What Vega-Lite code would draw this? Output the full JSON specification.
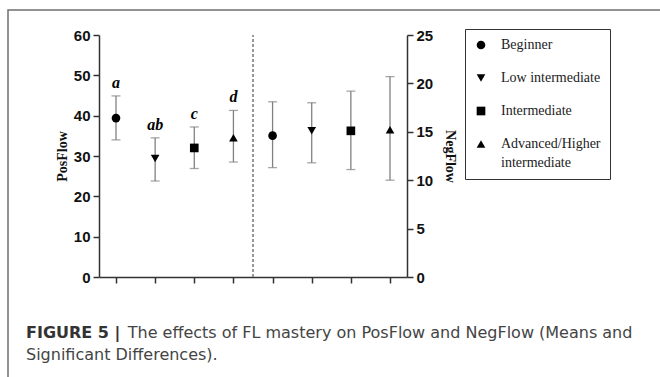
{
  "$schema": "https://vega.github.io/schema/vega-lite/v6.json",
  "width": 653,
  "height": 368,
  "autosize": "none",
  "padding": {"left": 8, "top": 10, "right": -1, "bottom": -1},
  "background": "white",
  "config": {
    "view": {"stroke": "#6f6f6f", "strokeWidth": 1.5},
    "style": {"guide-label": {"lineHeight": 19}}
  },
  "title": {
    "text": "FIGURE 5 |",
    "subtitle": ["\u200b\u00a0\u00a0\u00a0\u00a0\u00a0\u00a0\u00a0\u00a0\u00a0\u00a0\u00a0\u00a0\u00a0\u00a0\u00a0\u00a0\u00a0\u00a0\u00a0\u00a0The effects of FL mastery on PosFlow and NegFlow (Means and", "Significant Differences)."],
    "orient": "bottom",
    "anchor": "start",
    "frame": "group",
    "offset": -53,
    "dx": 18,
    "font": "DejaVu Sans",
    "fontSize": 16,
    "fontWeight": "bold",
    "color": "#333",
    "subtitleFont": "DejaVu Sans",
    "subtitleFontSize": 16,
    "subtitleColor": "#444",
    "subtitleLineHeight": 21.5,
    "subtitlePadding": -16
  },
  "datasets": {
    "posflow": [
      {"pos": 1, "level": "Beginner", "mean": 39.4, "lo": 34.0, "hi": 44.9, "sig": "a"},
      {"pos": 2, "level": "Low intermediate", "mean": 29.4, "lo": 23.8, "hi": 34.5, "sig": "ab"},
      {"pos": 3, "level": "Intermediate", "mean": 32.0, "lo": 26.9, "hi": 37.2, "sig": "c"},
      {"pos": 4, "level": "Advanced/Higher intermediate", "mean": 34.5, "lo": 28.5, "hi": 41.3, "sig": "d"}
    ],
    "negflow": [
      {"pos": 5, "level": "Beginner", "mean": 14.6, "lo": 11.3, "hi": 18.1},
      {"pos": 6, "level": "Low intermediate", "mean": 15.1, "lo": 11.8, "hi": 18.0},
      {"pos": 7, "level": "Intermediate", "mean": 15.1, "lo": 11.1, "hi": 19.2},
      {"pos": 8, "level": "Advanced/Higher intermediate", "mean": 15.2, "lo": 10.0, "hi": 20.7}
    ],
    "sep": [{"pos": 4.5}]
  },
  "encoding": {
    "x": {
      "field": "pos",
      "type": "quantitative",
      "title": null,
      "scale": {"domain": [0.566, 8.434], "range": [91, 399], "nice": false, "zero": false},
      "axis": {
        "orient": "bottom",
        "offset": -101,
        "values": [1, 2, 3, 4, 5, 6, 7, 8],
        "labels": false,
        "title": null,
        "grid": false,
        "tickSize": 6,
        "tickColor": "#333",
        "tickWidth": 1.5,
        "domainColor": "#333",
        "domainWidth": 1.5
      }
    }
  },
  "layer": [
    {
      "data": {"name": "posflow"},
      "layer": [
        {
          "data": {"name": "sep"},
          "mark": {"type": "rule", "color": "#777", "strokeWidth": 1.5, "strokeDash": [3, 2]},
          "encoding": {
            "y": {"datum": 0, "type": "quantitative", "title": "PosFlow", "scale": {"domain": [0, 60], "range": [267, 25], "nice": false}},
            "y2": {"datum": 60}
          }
        },
        {
          "mark": {"type": "rule", "color": "#808080", "strokeWidth": 1.3},
          "encoding": {
            "y": {"field": "lo", "type": "quantitative", "title": "PosFlow", "scale": {"domain": [0, 60], "range": [267, 25], "nice": false}},
            "y2": {"field": "hi"}
          }
        },
        {
          "mark": {"type": "tick", "orient": "horizontal", "color": "#808080", "size": 9, "thickness": 1.3},
          "encoding": {
            "y": {"field": "lo", "type": "quantitative", "title": "PosFlow", "scale": {"domain": [0, 60], "range": [267, 25], "nice": false}}
          }
        },
        {
          "mark": {"type": "tick", "orient": "horizontal", "color": "#808080", "size": 9, "thickness": 1.3},
          "encoding": {
            "y": {"field": "hi", "type": "quantitative", "title": "PosFlow", "scale": {"domain": [0, 60], "range": [267, 25], "nice": false}}
          }
        },
        {
          "mark": {"type": "point", "filled": true, "color": "black", "size": 75, "opacity": 1},
          "encoding": {
            "y": {
              "field": "mean",
              "type": "quantitative",
              "title": "PosFlow",
              "scale": {"domain": [0, 60], "range": [267, 25], "nice": false},
              "axis": {
                "orient": "left",
                "offset": -91,
                "values": [0, 5, 10, 15, 20, 25, 30, 35, 40, 45, 50, 55, 60],
                "labelExpr": "datum.value % 10 === 0 ? datum.label : ''",
                "tickSize": {"condition": {"test": "datum.value % 10 === 0", "value": 6}, "value": 4},
                "tickColor": "#333",
                "tickWidth": 1.5,
                "domainColor": "#333",
                "domainWidth": 1.5,
                "grid": false,
                "labelFont": "Liberation Sans",
                "labelFontWeight": "bold",
                "labelFontSize": 15,
                "labelColor": "#111",
                "labelPadding": 3,
                "title": "PosFlow",
                "titleFont": "Liberation Serif",
                "titleFontWeight": "bold",
                "titleFontSize": 14,
                "titleColor": "#111",
                "titlePadding": 4
              }
            },
            "shape": {
              "field": "level",
              "type": "nominal",
              "scale": {"domain": ["Beginner", "Low intermediate", "Intermediate", "Advanced/Higher intermediate"], "range": ["circle", "triangle-down", "square", "triangle-up"]},
              "legend": {
                "orient": "none",
                "legendX": 457,
                "legendY": 19,
                "title": null,
                "strokeColor": "#333",
                "padding": 9,
                "symbolSize": 75,
                "symbolFillColor": "black",
                "symbolStrokeColor": "black",
                "symbolStrokeWidth": 0,
                "symbolOpacity": 1,
                "labelFont": "Liberation Serif",
                "labelFontSize": 14,
                "labelColor": "#222",
                "labelOffset": 13,
                "labelLimit": 300,
                "rowPadding": 19,
                "labelExpr": "datum.label == 'Advanced/Higher intermediate' ? ['Advanced/Higher', 'intermediate'] : datum.label"
              }
            }
          }
        },
        {
          "mark": {"type": "text", "font": "Liberation Serif", "fontWeight": "bold", "fontStyle": "italic", "fontSize": 16, "color": "black", "baseline": "alphabetic", "dy": -8},
          "encoding": {
            "y": {"field": "hi", "type": "quantitative", "title": "PosFlow", "scale": {"domain": [0, 60], "range": [267, 25], "nice": false}},
            "text": {"field": "sig"}
          }
        }
      ]
    },
    {
      "data": {"name": "negflow"},
      "layer": [
        {
          "mark": {"type": "rule", "color": "#808080", "strokeWidth": 1.3},
          "encoding": {
            "y": {"field": "lo", "type": "quantitative", "title": "NegFlow", "scale": {"domain": [0, 25], "range": [267, 25], "nice": false}},
            "y2": {"field": "hi"}
          }
        },
        {
          "mark": {"type": "tick", "orient": "horizontal", "color": "#808080", "size": 9, "thickness": 1.3},
          "encoding": {
            "y": {"field": "lo", "type": "quantitative", "title": "NegFlow", "scale": {"domain": [0, 25], "range": [267, 25], "nice": false}}
          }
        },
        {
          "mark": {"type": "tick", "orient": "horizontal", "color": "#808080", "size": 9, "thickness": 1.3},
          "encoding": {
            "y": {"field": "hi", "type": "quantitative", "title": "NegFlow", "scale": {"domain": [0, 25], "range": [267, 25], "nice": false}}
          }
        },
        {
          "mark": {"type": "point", "filled": true, "color": "black", "size": 75, "opacity": 1},
          "encoding": {
            "y": {
              "field": "mean",
              "type": "quantitative",
              "title": "NegFlow",
              "scale": {"domain": [0, 25], "range": [267, 25], "nice": false},
              "axis": {
                "orient": "right",
                "offset": -254,
                "values": [0, 2.5, 5, 7.5, 10, 12.5, 15, 17.5, 20, 22.5, 25],
                "labelExpr": "datum.value % 5 === 0 ? datum.label : ''",
                "tickSize": {"condition": {"test": "datum.value % 5 === 0", "value": 6}, "value": 4},
                "tickColor": "#333",
                "tickWidth": 1.5,
                "domainColor": "#333",
                "domainWidth": 1.5,
                "grid": false,
                "labelFont": "Liberation Sans",
                "labelFontWeight": "bold",
                "labelFontSize": 15,
                "labelColor": "#111",
                "labelPadding": 3,
                "title": "NegFlow",
                "titleFont": "Liberation Serif",
                "titleFontWeight": "bold",
                "titleFontSize": 14,
                "titleColor": "#111",
                "titlePadding": 10
              }
            },
            "shape": {
              "field": "level",
              "type": "nominal",
              "scale": {"domain": ["Beginner", "Low intermediate", "Intermediate", "Advanced/Higher intermediate"], "range": ["circle", "triangle-down", "square", "triangle-up"]},
              "legend": {
                "orient": "none",
                "legendX": 457,
                "legendY": 19,
                "title": null,
                "strokeColor": "#333",
                "padding": 9,
                "symbolSize": 75,
                "symbolFillColor": "black",
                "symbolStrokeColor": "black",
                "symbolStrokeWidth": 0,
                "symbolOpacity": 1,
                "labelFont": "Liberation Serif",
                "labelFontSize": 14,
                "labelColor": "#222",
                "labelOffset": 13,
                "labelLimit": 300,
                "rowPadding": 19,
                "labelExpr": "datum.label == 'Advanced/Higher intermediate' ? ['Advanced/Higher', 'intermediate'] : datum.label"
              }
            }
          }
        }
      ]
    }
  ],
  "resolve": {"scale": {"y": "independent"}}
}
